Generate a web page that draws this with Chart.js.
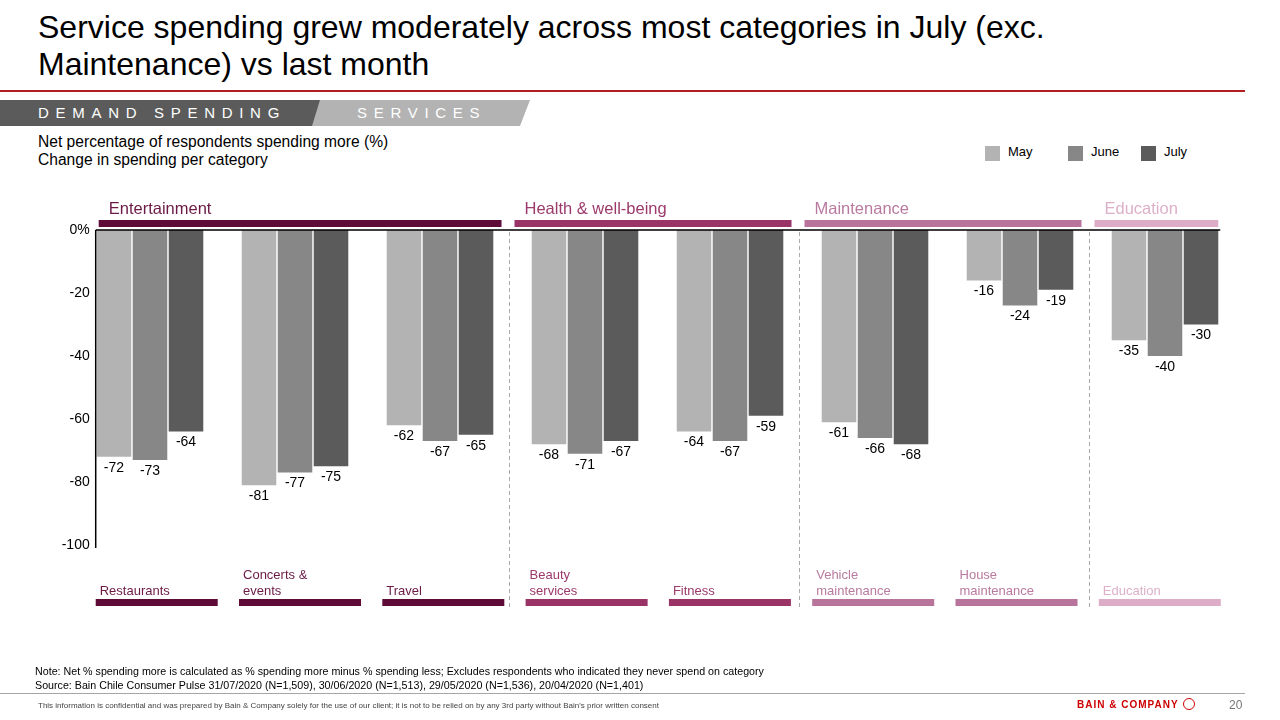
<!DOCTYPE html>
<html>
<head>
<meta charset="utf-8">
<script src="https://cdn.jsdelivr.net/npm/chart.js@4.4.1/dist/chart.umd.min.js"></script>
<style>
  html, body { margin: 0; padding: 0; background: #fff; }
  body { width: 1280px; height: 720px; position: relative; overflow: hidden;
         font-family: "Liberation Sans", Arial, sans-serif; color: #000; }
  .abs { position: absolute; white-space: nowrap; }
  #title { left: 38px; top: 9px; font-size: 32px; line-height: 37px; }
  #title-rule { left: 0; top: 90px; width: 1245px; height: 2px; background: #b01e23; }
  .tab { top: 100px; height: 26px; line-height: 26px; color: #fff; font-size: 15px; letter-spacing: 6.7px; }
  #tab1 { left: 0; width: 322px; background: #5b5b5b; padding-left: 38px; box-sizing: border-box;
          clip-path: polygon(0 0, 100% 0, calc(100% - 8px) 100%, 0 100%); }
  #tab2 { left: 312px; width: 218px; background: #b3b3b3; padding-left: 45px; box-sizing: border-box;
          clip-path: polygon(8px 0, 100% 0, calc(100% - 10px) 100%, 0 100%); }
  #subtitle { left: 38px; top: 133px; font-size: 15.6px; line-height: 18px; }
  #legend { left: 985px; top: 144px; font-size: 13px; }
  .lg-item { position: absolute; top: 0; white-space: nowrap; }
  .lg-box { position: absolute; top: 2px; width: 15px; height: 15px; }
  .lg-text { position: absolute; left: 23px; top: 0; line-height: 16px; }
  #chart { position: absolute; left: 0; top: 0; }
  #note { left: 35px; top: 664px; font-size: 10.7px; line-height: 14px; }
  #foot-rule { left: 0; top: 693px; width: 1245px; height: 1px; background: #a6a6a6; }
  #conf { left: 38px; top: 701px; font-size: 8px; color: #444; }
  #bain { left: 1077px; top: 699px; font-size: 10px; font-weight: bold; color: #cc0000; letter-spacing: 1px; }
  #bain-logo { left: 1183px; top: 698px; width: 10px; height: 10px; border: 1.5px solid #cc0000; border-radius: 50%; }
  #page { left: 1229px; top: 698px; font-size: 12px; color: #777; }
</style>
</head>
<body>
<div id="title" class="abs">Service spending grew moderately across most categories in July (exc.<br>Maintenance) vs last month</div>
<div id="title-rule" class="abs"></div>
<div id="tab1" class="abs tab">DEMAND SPENDING</div>
<div id="tab2" class="abs tab">SERVICES</div>
<div id="subtitle" class="abs">Net percentage of respondents spending more (%)<br>Change in spending per category</div>
<div id="legend" class="abs"></div>
<canvas id="chart" width="1280" height="720"></canvas>
<div id="note" class="abs">Note: Net % spending more is calculated as % spending more minus % spending less; Excludes respondents who indicated they never spend on category<br>Source: Bain Chile Consumer Pulse 31/07/2020 (N=1,509), 30/06/2020 (N=1,513), 29/05/2020 (N=1,536), 20/04/2020 (N=1,401)</div>
<div id="foot-rule" class="abs"></div>
<div id="conf" class="abs">This information is confidential and was prepared by Bain &amp; Company solely for the use of our client; it is not to be relied on by any 3rd party without Bain's prior written consent</div>
<div id="bain" class="abs">BAIN &amp; COMPANY</div>
<div id="bain-logo" class="abs"></div>
<div id="page" class="abs">20</div>

<script>
'use strict';

// ─── Data ─────────────────────────────────────────────────────────────────────

const categories = [
  ['Restaurants'], ['Concerts &', 'events'], ['Travel'],
  ['Beauty', 'services'], ['Fitness'],
  ['Vehicle', 'maintenance'], ['House', 'maintenance'],
  ['Education'],
];
const categoryGroup = [0, 0, 0, 1, 1, 2, 2, 3];
const groups = ['Entertainment', 'Health & well-being', 'Maintenance', 'Education'];

const seriesNames = ['May', 'June', 'July'];
const mayValues  = [-72, -81, -62, -68, -64, -61, -16, -35];
const juneValues = [-73, -77, -67, -71, -67, -66, -24, -40];
const julyValues = [-64, -75, -65, -67, -59, -68, -19, -30];

const yTicks = [0, -20, -40, -60, -80, -100];

// ─── Styles ───────────────────────────────────────────────────────────────────

const seriesColors = ['#b3b3b3', '#878787', '#5b5b5b'];
const groupColors  = ['#5e0b38', '#9a3466', '#b9749c', '#ddadc7'];
const groupText    = ['#6b1a45', '#9b3a6b', '#b87a9f', '#dcb0c8'];
const FONT = '"Liberation Sans", Arial, sans-serif';

// ─── Legend (HTML) ────────────────────────────────────────────────────────────

const legendOffsets = [0, 83, 156];
document.getElementById('legend').innerHTML = seriesNames.map((name, i) => `
  <div class="lg-item" style="left:${legendOffsets[i]}px">
    <div class="lg-box" style="background:${seriesColors[i]}"></div>
    <div class="lg-text">${name}</div>
  </div>`).join('');

// ─── Decoration plugin ────────────────────────────────────────────────────────

const decorPlugin = {
  id: 'decor',
  afterDatasetsDraw(chart) {
    const { ctx } = chart;
    const x = chart.scales.x;
    const y = chart.scales.y;
    const catW = x.getPixelForValue(1) - x.getPixelForValue(0);
    const firstBar = chart.getDatasetMeta(0).data[0];
    const lastBar  = chart.getDatasetMeta(2).data[categories.length - 1];
    const axisX  = firstBar.x - firstBar.width / 2 - 1;
    const rightX = lastBar.x + lastBar.width / 2 + 2;
    const y0   = y.getPixelForValue(0);
    const yMin = y.getPixelForValue(-100);

    ctx.save();

    // y tick labels (right-aligned just left of the axis line)
    ctx.font = `14px ${FONT}`;
    ctx.fillStyle = '#000';
    ctx.textAlign = 'right';
    ctx.textBaseline = 'middle';
    yTicks.forEach((v) => {
      ctx.fillText(v === 0 ? '0%' : String(v), axisX - 6, y.getPixelForValue(v));
    });

    // data labels under the bars
    ctx.textAlign = 'center';
    chart.data.datasets.forEach((ds, di) => {
      chart.getDatasetMeta(di).data.forEach((bar, i) => {
        ctx.fillText(String(ds.data[i]), bar.x, bar.y + 11);
      });
    });

    // axes
    ctx.strokeStyle = '#000';
    ctx.lineWidth = 1.5;
    ctx.beginPath();
    ctx.moveTo(axisX, y0);
    ctx.lineTo(rightX, y0);
    ctx.moveTo(axisX, y0);
    ctx.lineTo(axisX, yMin + 3);
    ctx.stroke();

    // group separators
    const seps = [];
    for (let i = 1; i < categories.length; i++) {
      if (categoryGroup[i] !== categoryGroup[i - 1]) {
        seps.push(x.getPixelForValue(i) - catW / 2 - 4);
      }
    }
    ctx.strokeStyle = '#aaaaaa';
    ctx.lineWidth = 1;
    ctx.setLineDash([4, 3]);
    ctx.beginPath();
    seps.forEach((sx) => {
      ctx.moveTo(Math.round(sx) + 0.5, y0 + 2);
      ctx.lineTo(Math.round(sx) + 0.5, 608);
    });
    ctx.stroke();
    ctx.setLineDash([]);

    // group header bars
    const bounds = [axisX - 3, ...seps, rightX + 5];
    ctx.font = `16.5px ${FONT}`;
    ctx.textAlign = 'left';
    groups.forEach((g, gi) => {
      const left = bounds[gi] + 6;
      const right = bounds[gi + 1] - 7;
      ctx.fillStyle = groupColors[gi];
      ctx.fillRect(left, 220, right - left, 7);
      ctx.fillStyle = groupText[gi];
      ctx.fillText(g, left + 10, 209.5);
    });

    // category labels with underline bars
    ctx.font = `13px ${FONT}`;
    categories.forEach((lines, i) => {
      const gi = categoryGroup[i];
      const left = axisX + i * (catW - 1.7);
      ctx.fillStyle = groupColors[gi];
      ctx.fillRect(left, 599, 122, 7);
      ctx.fillStyle = groupText[gi];
      lines.forEach((line, li) => {
        ctx.fillText(line, left + 4, 591 - (lines.length - 1 - li) * 16);
      });
    });

    ctx.restore();
  },
};

// ─── Chart ────────────────────────────────────────────────────────────────────

const seriesValues = [mayValues, juneValues, julyValues];

new Chart(document.getElementById('chart'), {
  type: 'bar',
  data: {
    labels: categories.map((c) => c.join(' ')),
    datasets: seriesNames.map((name, i) => ({
      label: name,
      data: seriesValues[i],
      backgroundColor: seriesColors[i],
      borderWidth: 0,
      categoryPercentage: 0.745,
      barPercentage: 0.96,
    })),
  },
  options: {
    responsive: false,
    animation: false,
    devicePixelRatio: 1,
    layout: { padding: { top: 230, bottom: 175, left: 0, right: 42.5 } },
    plugins: { legend: { display: false }, tooltip: { enabled: false } },
    scales: {
      x: { display: false },
      y: {
        min: -100,
        max: 0,
        afterFit: (scale) => { scale.width = 77.5; },
        afterBuildTicks: (scale) => { scale.ticks = yTicks.map((v) => ({ value: v })); },
        grid: { display: false, drawTicks: false },
        border: { display: false },
        ticks: { display: false },
      },
    },
  },
  plugins: [decorPlugin],
});
</script>
</body>
</html>
